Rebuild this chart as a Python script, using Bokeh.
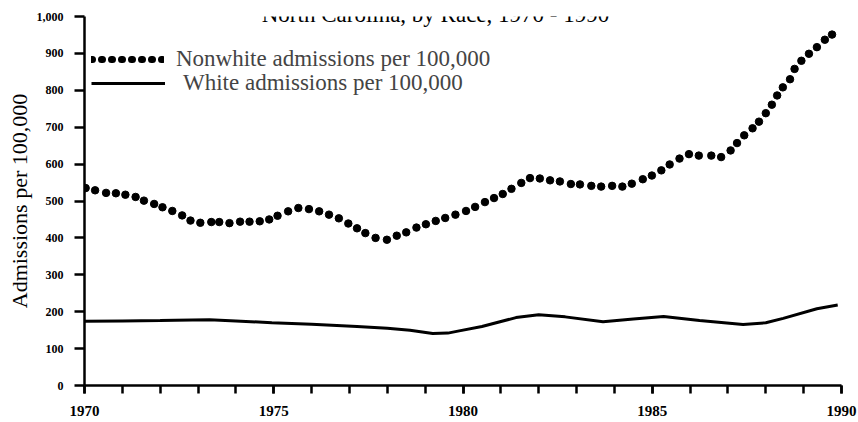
from bokeh.plotting import figure
from bokeh.models import (Range1d, FixedTicker, NumeralTickFormatter, Legend, LegendItem,
                          Label, ColumnDataSource)
from bokeh.embed import file_html
from bokeh.resources import INLINE

# ---- data ----
title_text = "North Carolina, by Race, 1970 - 1990"
y_label = "Admissions per 100,000"
nonwhite_name = "Nonwhite admissions per 100,000"
white_name = "White admissions per 100,000"

nonwhite_year = [1970.03, 1970.28, 1970.57, 1970.83, 1971.08, 1971.35, 1971.57, 1971.84, 1972.06,
                 1972.32, 1972.58, 1972.80, 1973.06, 1973.35, 1973.56, 1973.83, 1974.11, 1974.36,
                 1974.63, 1974.88, 1975.10, 1975.38, 1975.65, 1975.93, 1976.20, 1976.46, 1976.72,
                 1976.97, 1977.20, 1977.42, 1977.69, 1977.99, 1978.25, 1978.50, 1978.77, 1979.02,
                 1979.28, 1979.53, 1979.80, 1980.08, 1980.32, 1980.58, 1980.82, 1981.05, 1981.28,
                 1981.54, 1981.77, 1982.03, 1982.30, 1982.56, 1982.85, 1983.09, 1983.39, 1983.65,
                 1983.94, 1984.21, 1984.46, 1984.75, 1984.99, 1985.24, 1985.46, 1985.72, 1985.97,
                 1986.23, 1986.56, 1986.82, 1987.07, 1987.24, 1987.43, 1987.65, 1987.82, 1988.00,
                 1988.16, 1988.30, 1988.45, 1988.64, 1988.76, 1988.94, 1989.14, 1989.35, 1989.56,
                 1989.75]
nonwhite_rate = [535, 529, 522, 521, 517, 511, 501, 492, 483,
                 473, 461, 447, 441, 443, 443, 440, 444, 444,
                 445, 450, 460, 472, 481, 478, 472, 463, 453,
                 439, 426, 413, 400, 395, 406, 415, 428, 437,
                 446, 454, 463, 473, 484, 497, 508, 519, 533,
                 549, 562, 561, 556, 553, 546, 545, 541, 539,
                 541, 539, 547, 559, 569, 583, 599, 615, 627,
                 623, 623, 619, 637, 657, 678, 697, 715, 738,
                 761, 786, 808, 830, 858, 880, 899, 917, 937,
                 951]

white_year = [1970.0, 1971.0, 1972.0, 1972.4, 1973.3, 1974.0, 1974.95, 1976.0, 1977.2, 1978.0,
              1978.6, 1979.2, 1979.6, 1979.9, 1980.5, 1981.4, 1982.0, 1982.7, 1983.7, 1984.5,
              1985.3, 1986.25, 1987.4, 1988.0, 1988.46, 1989.35, 1989.9]
white_rate = [174, 175, 176, 177, 178, 175, 170, 166, 160, 155,
              150, 141, 142, 148, 160, 184, 192, 186, 173, 180,
              187, 176, 165, 170, 182, 208, 218]

x_major = [1970, 1975, 1980, 1985, 1990]
x_minor = list(range(1970, 1991))
y_ticks = list(range(0, 1001, 100))

SERIF = "Liberation Serif"

p = figure(width=858, height=422, output_backend="svg", toolbar_location=None,
           x_range=Range1d(1970, 1990), y_range=Range1d(0, 1000),
           min_border_left=84, min_border_right=17, min_border_top=16, min_border_bottom=37)
p.background_fill_color = "white"
p.border_fill_color = "white"
p.outline_line_color = None
p.xgrid.visible = False
p.ygrid.visible = False

# x axis
xa = p.xaxis[0]
xa.ticker = FixedTicker(ticks=x_major, minor_ticks=x_minor)
xa.axis_line_width = 2.5
xa.major_tick_line_width = 2.5
xa.minor_tick_line_width = 2.5
xa.major_tick_in = 0
xa.major_tick_out = 8
xa.minor_tick_in = 0
xa.minor_tick_out = 8
xa.major_label_standoff = 12
xa.major_label_text_font = SERIF
xa.major_label_text_font_size = "15px"
xa.major_label_text_font_style = "bold"
xa.major_label_text_color = "black"

# y axis
ya = p.yaxis[0]
ya.ticker = FixedTicker(ticks=y_ticks, minor_ticks=[])
ya.formatter = NumeralTickFormatter(format="0,0")
ya.axis_line_width = 2.5
ya.major_tick_line_width = 2.5
ya.major_tick_in = 0
ya.major_tick_out = 10
ya.minor_tick_out = 0
ya.major_label_standoff = 11
ya.major_label_text_font = SERIF
ya.major_label_text_font_size = "12px"
ya.major_label_text_font_style = "bold"
ya.major_label_text_color = "black"
ya.axis_label = y_label
ya.axis_label_standoff = 2
ya.axis_label_text_font = SERIF
ya.axis_label_text_font_size = "22px"
ya.axis_label_text_font_style = "normal"
ya.axis_label_text_color = "black"

# series
src_nw = ColumnDataSource(dict(x=nonwhite_year, y=nonwhite_rate))
src_w = ColumnDataSource(dict(x=white_year, y=white_rate))
p.scatter("x", "y", source=src_nw, size=7.5, color="black", marker="circle")
white_r = p.line("x", "y", source=src_w, line_color="black", line_width=3)

# legend key for the dotted series (round-capped short dashes = dots); draws nothing in the frame
nan = float("nan")
nw_leg = p.line(x=[nan], y=[nan], line_color="black", line_width=7, line_cap="round",
                line_dash="1 9")

leg1 = Legend(items=[LegendItem(label=nonwhite_name, renderers=[nw_leg])],
              location=(7, 313), glyph_width=73, glyph_height=24, label_height=24,
              label_standoff=12, padding=0, margin=0, border_line_color=None,
              background_fill_alpha=0, label_text_font=SERIF, label_text_font_size="23px")
leg2 = Legend(items=[LegendItem(label=white_name, renderers=[white_r])],
              location=(7, 289), glyph_width=74, glyph_height=24, label_height=24,
              label_standoff=18, padding=0, margin=0, border_line_color=None,
              background_fill_alpha=0, label_text_font=SERIF, label_text_font_size="23px")
p.add_layout(leg1, "center")
p.add_layout(leg2, "center")

# title at the very top of the page
p.add_layout(Label(x=351, y=371, x_units="screen", y_units="screen", text=title_text,
                   text_align="center", text_baseline="alphabetic", text_font=SERIF,
                   text_font_size="23px", text_color="black"))

open("out.html", "w").write(file_html(p, INLINE))
